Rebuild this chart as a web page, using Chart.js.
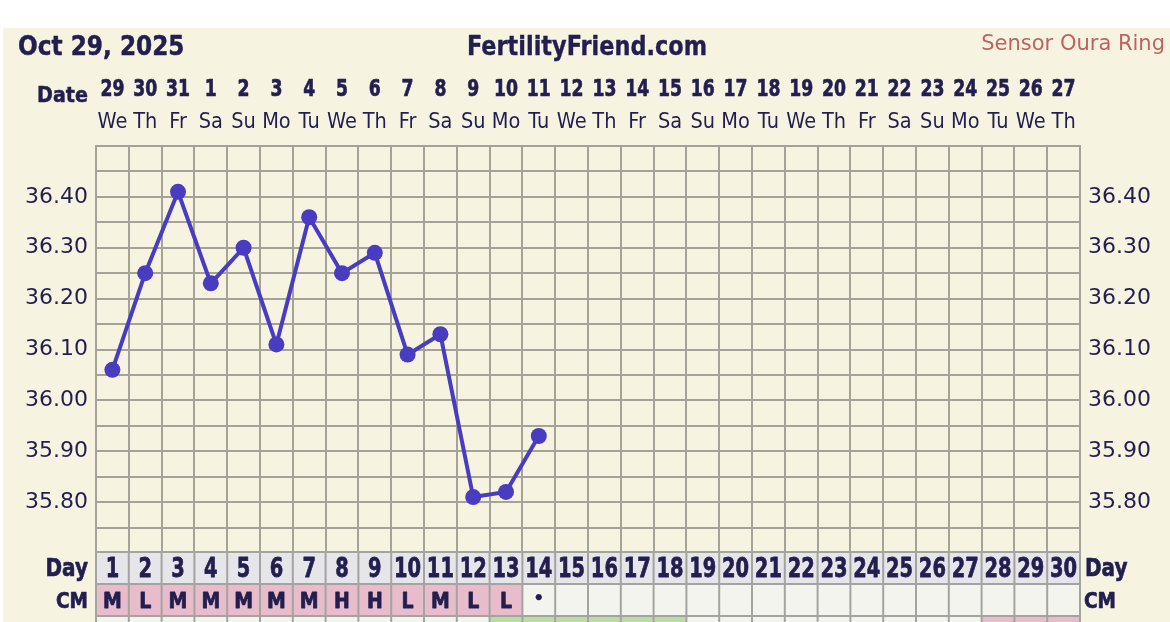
<!DOCTYPE html>
<html>
<head>
<meta charset="utf-8">
<script src="https://cdn.jsdelivr.net/npm/chart.js@4.4.1/dist/chart.umd.min.js"></script>
<style>
  html, body { margin: 0; padding: 0; background: #fff; }
  canvas { display: block; }
</style>
</head>
<body>
<canvas id="chart" width="1170" height="622"></canvas>
<script>
const cycleDays = ['1','2','3','4','5','6','7','8','9','10','11','12','13','14','15',
  '16','17','18','19','20','21','22','23','24','25','26','27','28','29','30'];
const dates = ['29','30','31','1','2','3','4','5','6','7','8','9','10','11','12',
  '13','14','15','16','17','18','19','20','21','22','23','24','25','26','27'];
const weekdays = ['We','Th','Fr','Sa','Su','Mo','Tu','We','Th','Fr','Sa','Su','Mo','Tu','We',
  'Th','Fr','Sa','Su','Mo','Tu','We','Th','Fr','Sa','Su','Mo','Tu','We','Th'];
const temps = [36.06, 36.25, 36.41, 36.23, 36.30, 36.11, 36.36, 36.25, 36.29, 36.09,
  36.13, 35.81, 35.82, 35.93];
const cervicalMucus = ['M','L','M','M','M','M','M','H','H','L','M','L','L','•'];
const fertileDays = [13, 14, 15, 16, 17, 18];
const predictedDays = [28, 29, 30];
const tempGrid = [35.70, 35.75, 35.80, 35.85, 35.90, 35.95, 36.00, 36.05, 36.10,
  36.15, 36.20, 36.25, 36.30, 36.35, 36.40, 36.45, 36.50];
const tempLabels = ['35.80','35.90','36.00','36.10','36.20','36.30','36.40'];

const NAVY = '#221f50';
const CREAM = '#f6f3e1';
const GRID = '#a4a398';
const LINE = '#4a3cc0';

// text squeezed horizontally by sx, with an optional outline to make bold heavier
function drawText(ctx, text, x, y, font, sx, align, color, heavy) {
  ctx.save();
  ctx.font = font;
  ctx.fillStyle = color || NAVY;
  ctx.strokeStyle = color || NAVY;
  ctx.textAlign = align || 'center';
  ctx.textBaseline = 'alphabetic';
  ctx.translate(x, y);
  ctx.scale(sx, 1);
  ctx.fillText(text, 0, 0);
  if (heavy) {
    ctx.lineWidth = heavy;
    ctx.lineJoin = 'round';
    ctx.strokeText(text, 0, 0);
  }
  ctx.restore();
}

const backdrop = {
  id: 'backdrop',
  beforeDraw(chart) {
    const ctx = chart.ctx;
    ctx.save();
    ctx.fillStyle = '#ffffff';
    ctx.fillRect(0, 0, chart.width, chart.height);
    ctx.fillStyle = CREAM;
    ctx.fillRect(3, 28, chart.width - 3, chart.height - 28);
    ctx.restore();
  }
};

const chartText = {
  id: 'chartText',
  afterDraw(chart) {
    const ctx = chart.ctx;
    const xs = chart.scales.x;
    const area = chart.chartArea;
    const half = (xs.right - xs.left) / cycleDays.length / 2;
    const B = 'bold ';
    const F = 'px "DejaVu Sans"';

    // header
    drawText(ctx, 'Oct 29, 2025', 18, 55, B + '27' + F, 0.86, 'left', NAVY, 0.5);
    drawText(ctx, 'FertilityFriend.com', 587, 55, B + '27' + F, 0.83, 'center', NAVY, 0.4);
    drawText(ctx, 'Sensor Oura Ring', 1165, 50, '21' + F, 1, 'right', '#c0625e');

    // date / weekday rows
    drawText(ctx, 'Date', 88, 102, B + '22' + F, 0.87, 'right', NAVY, 0.5);
    dates.forEach((d, i) => {
      const cx = xs.getPixelForValue(i);
      drawText(ctx, d, cx, 96, B + '23' + F, 0.75, 'center', NAVY, 0.7);
      drawText(ctx, weekdays[i], cx, 128, '22' + F, 0.88, 'center');
    });

    // table rows below the chart
    const top = area.bottom - 1;
    const rowH = 32;
    ctx.save();
    ctx.fillStyle = '#e5e5ea';
    ctx.fillRect(area.left, top, area.right - area.left, rowH);
    cycleDays.forEach((d, i) => {
      const cx = xs.getPixelForValue(i);
      const day = i + 1;
      const cm = cervicalMucus[i] || '';
      ctx.fillStyle = /[A-Z]/.test(cm) ? '#e8bccb' : '#f4f4ef';
      ctx.fillRect(cx - half, top + rowH, half * 2, rowH);
      ctx.fillStyle = fertileDays.includes(day) ? '#b9dea2'
        : predictedDays.includes(day) ? '#e8bccb' : '#f4f4ef';
      ctx.fillRect(cx - half, top + rowH * 2, half * 2, rowH);
    });
    ctx.strokeStyle = '#a3a3a0';
    ctx.lineWidth = 2;
    ctx.beginPath();
    for (let r = 0; r <= 2; r++) {
      ctx.moveTo(area.left, top + r * rowH);
      ctx.lineTo(area.right, top + r * rowH);
    }
    for (let i = 0; i <= cycleDays.length; i++) {
      const x = area.left + i * half * 2;
      ctx.moveTo(x, top);
      ctx.lineTo(x, chart.height);
    }
    ctx.stroke();
    ctx.restore();

    cycleDays.forEach((d, i) => {
      const cx = xs.getPixelForValue(i);
      drawText(ctx, d, cx, top + 25, B + '27' + F, 0.72, 'center', NAVY, 0.8);
      const cm = cervicalMucus[i] || '';
      if (cm === '•') {
        drawText(ctx, cm, cx, top + rowH + 20, B + '18' + F, 1, 'center');
      } else if (cm) {
        drawText(ctx, cm, cx, top + rowH + 24, B + '21' + F, 0.9, 'center', NAVY, 0.8);
      }
    });
    drawText(ctx, 'Day', 88, top + 24, B + '25' + F, 0.8, 'right', NAVY, 0.7);
    drawText(ctx, 'CM', 88, top + rowH + 24, B + '21' + F, 0.88, 'right', NAVY, 0.7);
    drawText(ctx, 'Day', 1085, top + 24, B + '25' + F, 0.8, 'left', NAVY, 0.7);
    drawText(ctx, 'CM', 1084, top + rowH + 24, B + '21' + F, 0.88, 'left', NAVY, 0.7);
  }
};

const tickLabel = (value) => {
  const s = Number(value).toFixed(2);
  return tempLabels.includes(s) ? s : '';
};

new Chart(document.getElementById('chart'), {
  type: 'line',
  data: {
    labels: cycleDays,
    datasets: [{
      data: temps,
      borderColor: LINE,
      backgroundColor: LINE,
      borderWidth: 4,
      pointRadius: 8,
      pointBorderWidth: 0,
      pointBackgroundColor: LINE,
      tension: 0
    }]
  },
  options: {
    responsive: false,
    animation: false,
    layout: { padding: { top: 146, bottom: 69, left: 0, right: 0 } },
    plugins: { legend: { display: false }, tooltip: { enabled: false } },
    scales: {
      x: {
        type: 'category',
        offset: true,
        grid: { offset: true, color: GRID, lineWidth: 2, drawTicks: false },
        border: { color: GRID, width: 2 },
        ticks: { display: false },
        afterFit: (s) => { s.height = 0; }
      },
      y: {
        position: 'left',
        min: 35.70,
        max: 36.50,
        afterBuildTicks: (s) => { s.ticks = tempGrid.map(v => ({ value: v })); },
        grid: { color: GRID, lineWidth: 2, drawTicks: false },
        border: { color: GRID, width: 2 },
        ticks: {
          autoSkip: false,
          padding: 8,
          color: NAVY,
          font: { family: '"DejaVu Sans"', size: 22 },
          callback: tickLabel
        },
        afterFit: (s) => { s.width = 96; }
      },
      y2: {
        position: 'right',
        min: 35.70,
        max: 36.50,
        afterBuildTicks: (s) => { s.ticks = tempGrid.map(v => ({ value: v })); },
        grid: { display: false, drawTicks: false },
        border: { color: GRID, width: 2 },
        ticks: {
          autoSkip: false,
          padding: 8,
          color: NAVY,
          font: { family: '"DejaVu Sans"', size: 22 },
          callback: tickLabel
        },
        afterFit: (s) => { s.width = 90; }
      }
    }
  },
  plugins: [backdrop, chartText]
});
</script>
</body>
</html>
